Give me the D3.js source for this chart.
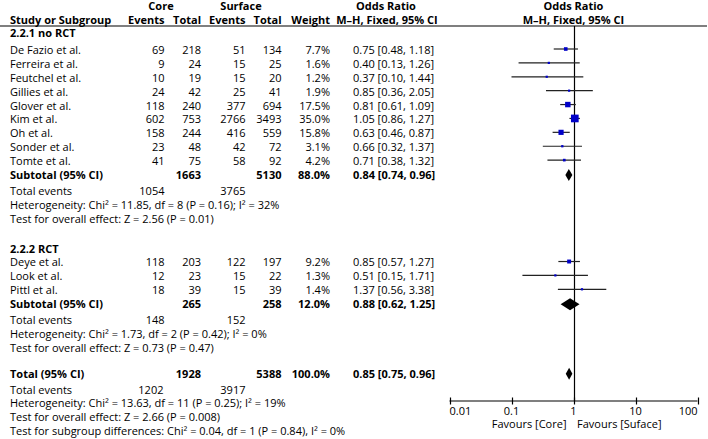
<!DOCTYPE html>
<html>
<head>
<meta charset="utf-8">
<script src="https://cdn.jsdelivr.net/npm/d3@7"></script>
<style>
  html, body { margin: 0; padding: 0; background: #fff; }
  svg { display: block; }
  text { font-family: "Open Sans", sans-serif; font-size: 11px; fill: #000; }
  .b { font-weight: bold; }
</style>
</head>
<body>
<svg id="chart" width="708" height="439"></svg>
<script>
// ---------------- DATA ----------------
const group1Name = "2.2.1 no RCT";
const group1Studies = ["De Fazio et al.", "Ferreira et al.", "Feutchel et al.", "Gillies et al.", "Glover et al.", "Kim et al.", "Oh et al.", "Sonder et al.", "Tomte et al."];
const group1CoreEvents = [69, 9, 10, 24, 118, 602, 158, 23, 41];
const group1CoreTotal = [218, 24, 19, 42, 240, 753, 244, 48, 75];
const group1SurfEvents = [51, 15, 15, 25, 377, 2766, 416, 42, 58];
const group1SurfTotal = [134, 25, 20, 41, 694, 3493, 559, 72, 92];
const group1Weight = [7.7, 1.6, 1.2, 1.9, 17.5, 35.0, 15.8, 3.1, 4.2];
const group1OR = [0.75, 0.40, 0.37, 0.85, 0.81, 1.05, 0.63, 0.66, 0.71];
const group1Lo = [0.48, 0.13, 0.10, 0.36, 0.61, 0.86, 0.46, 0.32, 0.38];
const group1Hi = [1.18, 1.26, 1.44, 2.05, 1.09, 1.27, 0.87, 1.37, 1.32];
const group1Subtotal = { coreTotal: 1663, surfTotal: 5130, weight: 88.0, or: 0.84, lo: 0.74, hi: 0.96, coreEvents: 1054, surfEvents: 3765 };
const group1Het = "Heterogeneity: Chi\u00B2 = 11.85, df = 8 (P = 0.16); I\u00B2 = 32%";
const group1Test = "Test for overall effect: Z = 2.56 (P = 0.01)";

const group2Name = "2.2.2 RCT";
const group2Studies = ["Deye et al.", "Look et al.", "Pittl et al."];
const group2CoreEvents = [118, 12, 18];
const group2CoreTotal = [203, 23, 39];
const group2SurfEvents = [122, 15, 15];
const group2SurfTotal = [197, 22, 39];
const group2Weight = [9.2, 1.3, 1.4];
const group2OR = [0.85, 0.51, 1.37];
const group2Lo = [0.57, 0.15, 0.56];
const group2Hi = [1.27, 1.71, 3.38];
const group2Subtotal = { coreTotal: 265, surfTotal: 258, weight: 12.0, or: 0.88, lo: 0.62, hi: 1.25, coreEvents: 148, surfEvents: 152 };
const group2Het = "Heterogeneity: Chi\u00B2 = 1.73, df = 2 (P = 0.42); I\u00B2 = 0%";
const group2Test = "Test for overall effect: Z = 0.73 (P = 0.47)";

const overall = { coreTotal: 1928, surfTotal: 5388, weight: 100.0, or: 0.85, lo: 0.75, hi: 0.96, coreEvents: 1202, surfEvents: 3917 };
const overallHet = "Heterogeneity: Chi\u00B2 = 13.63, df = 11 (P = 0.25); I\u00B2 = 19%";
const overallTest = "Test for overall effect: Z = 2.66 (P = 0.008)";
const subgroupTest = "Test for subgroup differences: Chi\u00B2 = 0.04, df = 1 (P = 0.84), I\u00B2 = 0%";

const axisTicks = [0.01, 0.1, 1, 10, 100];
const axisTickLabels = ["0.01", "0.1", "1", "10", "100"];
const favoursLeft = "Favours [Core]";
const favoursRight = "Favours [Suface]";

// ---------------- LAYOUT ----------------
const svg = d3.select("#chart");
const slotY = d3.scaleLinear().domain([0, 1]).range([50, 63.89]);
const x = d3.scaleLog().domain([0.01, 100]).range([449.5, 697.5]);
const col = { label: 10, coreEv: 164.5, coreTot: 201, surfEv: 245.5, surfTot: 281.5, weight: 330, or: 353 };
const headerLineY = 26;
const axisY = 401;
const fmt2 = d3.format(".2f");
const fmtW = d3.format(".1f");
const orText = (o, l, h) => `${fmt2(o)} [${fmt2(l)}, ${fmt2(h)}]`;

function txt(xp, yp, s, anchor, bold) {
  return svg.append("text").attr("x", xp).attr("y", yp).attr("dy", "0.36em")
    .attr("text-anchor", anchor || "start").classed("b", !!bold).text(s);
}

// header
txt(161, 6.5, "Core", "middle", true);
txt(241, 6.5, "Surface", "middle", true);
txt(386, 6.5, "Odds Ratio", "middle", true);
txt(x(1), 6.5, "Odds Ratio", "middle", true);
txt(col.label, 20, "Study or Subgroup", "start", true);
txt(col.coreEv, 20, "Events", "end", true);
txt(col.coreTot, 20, "Total", "end", true);
txt(col.surfEv, 20, "Events", "end", true);
txt(col.surfTot, 20, "Total", "end", true);
txt(col.weight, 20, "Weight", "end", true);
txt(387, 20, "M\u2013H, Fixed, 95% CI", "middle", true);
txt(x(1), 20, "M\u2013H, Fixed, 95% CI", "middle", true);
svg.append("line").attr("x1", 0).attr("x2", 707).attr("y1", headerLineY).attr("y2", headerLineY)
  .attr("stroke", "#000").attr("stroke-width", 1.2);

// vertical line at OR = 1
svg.append("line").attr("x1", Math.round(x(1)) + 0.5).attr("x2", Math.round(x(1)) + 0.5)
  .attr("y1", headerLineY).attr("y2", axisY).attr("stroke", "#000").attr("stroke-width", 1.2);

function drawSummary(s, slot, label) {
  const y = slotY(slot);
  txt(col.label, y, label, "start", true);
  txt(col.coreTot, y, s.coreTotal, "end", true);
  txt(col.surfTot, y, s.surfTotal, "end", true);
  txt(col.weight, y, fmtW(s.weight) + "%", "end", true);
  txt(col.or, y, orText(s.or, s.lo, s.hi), "start", true);
  const h = 6;
  svg.append("path")
    .attr("d", `M${x(s.lo)},${y} L${x(s.or)},${y - h} L${x(s.hi)},${y} L${x(s.or)},${y + h} Z`)
    .attr("fill", "#000");
}

function drawGroup(name, headSlot, firstSlot, studies, ce, ct, se, st, w, or, lo, hi, sub, subSlot, het, test) {
  txt(col.label, slotY(headSlot), name, "start", true);
  studies.forEach((s, i) => {
    const y = slotY(firstSlot + i);
    txt(col.label, y, s);
    txt(col.coreEv, y, ce[i], "end");
    txt(col.coreTot, y, ct[i], "end");
    txt(col.surfEv, y, se[i], "end");
    txt(col.surfTot, y, st[i], "end");
    txt(col.weight, y, fmtW(w[i]) + "%", "end");
    txt(col.or, y, orText(or[i], lo[i], hi[i]));
    const ly = y - 1;
    svg.append("line").attr("x1", x(lo[i])).attr("x2", x(hi[i])).attr("y1", ly).attr("y2", ly)
      .attr("stroke", "#222").attr("stroke-width", 1.2);
    const sz = Math.max(2.2, 1.3 * Math.sqrt(w[i]));
    svg.append("rect").attr("x", x(or[i]) - sz / 2).attr("y", ly - sz / 2)
      .attr("width", sz).attr("height", sz).attr("fill", "#0000c8");
  });
  drawSummary(sub, subSlot, "Subtotal (95% CI)");
  txt(col.label, slotY(subSlot + 1.15), "Total events");
  txt(col.coreEv, slotY(subSlot + 1.15), sub.coreEvents, "end");
  txt(col.surfEv, slotY(subSlot + 1.15), sub.surfEvents, "end");
  txt(col.label, slotY(subSlot + 2.15), het);
  txt(col.label, slotY(subSlot + 3.15), test);
}

drawGroup(group1Name, -1.2, 0, group1Studies, group1CoreEvents, group1CoreTotal, group1SurfEvents, group1SurfTotal,
  group1Weight, group1OR, group1Lo, group1Hi, group1Subtotal, 9, group1Het, group1Test);
drawGroup(group2Name, 14.3, 15.3, group2Studies, group2CoreEvents, group2CoreTotal, group2SurfEvents, group2SurfTotal,
  group2Weight, group2OR, group2Lo, group2Hi, group2Subtotal, 18.3, group2Het, group2Test);

// overall
drawSummary(overall, 23.3, "Total (95% CI)");
txt(col.label, slotY(24.45), "Total events");
txt(col.coreEv - 1, slotY(24.45), overall.coreEvents, "end");
txt(col.surfEv, slotY(24.45), overall.surfEvents, "end");
txt(col.label, slotY(25.45), overallHet);
txt(col.label, slotY(26.45), overallTest);
txt(col.label, slotY(27.45), subgroupTest);

// axis
const axisG = svg.append("g");
axisG.append("line").attr("x1", x(0.01)).attr("x2", x(100)).attr("y1", axisY).attr("y2", axisY)
  .attr("stroke", "#000").attr("stroke-width", 1.2);
axisTicks.forEach((t, i) => {
  const tx = Math.round(x(t)) + 0.5;
  axisG.append("line").attr("x1", tx).attr("x2", tx).attr("y1", axisY - 3.5).attr("y2", axisY + 3.5)
    .attr("stroke", "#000").attr("stroke-width", 1.2);
  const anchor = i === 0 ? "start" : (i === axisTicks.length - 1 ? "end" : "middle");
  txt(x(t), 411.5, axisTickLabels[i], anchor);
});
txt(x(1) - 7, 424, favoursLeft, "end");
txt(x(1) + 3.5, 424, favoursRight, "start");
</script>
</body>
</html>
